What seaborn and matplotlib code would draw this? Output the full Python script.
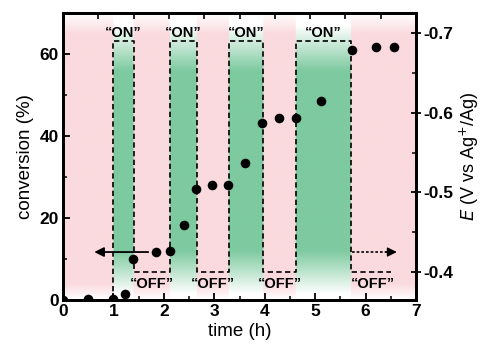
import numpy as np
import pandas as pd
import matplotlib
matplotlib.use("Agg")
import matplotlib.pyplot as plt
import seaborn as sns
from matplotlib.ticker import MultipleLocator, FixedLocator, NullFormatter

# ---------------- data ----------------
time_h = [0.0, 0.5, 1.0, 1.22, 1.39, 1.85, 2.13, 2.39, 2.64, 2.96, 3.28,
          3.61, 3.95, 4.29, 4.62, 5.12, 5.73, 6.21, 6.57]
conversion = [0.0, 0.3, 0.3, 1.5, 10.0, 11.8, 12.0, 18.3, 27.0, 28.0, 28.0,
              33.4, 43.2, 44.4, 44.4, 48.6, 61.0, 61.7, 61.7]

on_start = [1.0, 2.12, 3.29, 4.62]
on_end = [1.40, 2.65, 3.97, 5.71]
off_label_x = [1.77, 2.97, 4.30, 6.15]

pot_t = [1.0, 1.0, 1.40, 1.40, 2.12, 2.12, 2.65, 2.65, 3.29, 3.29,
         3.97, 3.97, 4.62, 4.62, 5.71, 5.71, 6.50]
pot_E = [-0.365, -0.69, -0.69, -0.40, -0.40, -0.69, -0.69, -0.40, -0.40, -0.69,
         -0.69, -0.40, -0.40, -0.69, -0.69, -0.40, -0.40]

left_arrow = [(1.69, 11.7), (0.62, 11.7)]
right_arrow = [(5.73, 11.7), (6.62, 11.7)]

xticks = [0, 1, 2, 3, 4, 5, 6, 7]
yticks = [0, 20, 40, 60]
eticks = [-0.4, -0.5, -0.6, -0.7]

# ---------------- style ----------------
sns.set_theme(style="ticks")
plt.rcParams['font.family'] = ['Liberation Sans', 'DejaVu Sans']
plt.rcParams['axes.unicode_minus'] = False
for k in ('text.color', 'axes.labelcolor', 'xtick.color', 'ytick.color', 'axes.edgecolor'):
    plt.rcParams[k] = 'black'

fig = plt.figure(figsize=(4.86, 3.53), dpi=100)
pos = [63 / 486, 1 - 300 / 353, (416 - 63) / 486, (300 - 13) / 353]

# background gradient axes
bg = fig.add_axes(pos, zorder=0)
xs = np.linspace(0, 7, 1401)
ys = np.linspace(0, 70, 701)
on_mask = np.zeros_like(xs, dtype=bool)
for s, e in zip(on_start, on_end):
    on_mask |= (xs >= s) & (xs <= e)
pink = np.array([250, 218, 222]) / 255.0
green = np.array([126, 202, 160]) / 255.0
fp = np.clip(ys / 4.0, 0, 1) * np.clip((70 - ys) / 5.0, 0, 1)
fg = np.clip((ys - 1.5) / 10.5, 0, 1) * np.clip((67 - ys) / 11.0, 0, 1)
F = np.where(on_mask[None, :], fg[:, None], fp[:, None])
C = np.where(on_mask[None, :, None], green[None, None, :], pink[None, None, :])
img = 1 - F[:, :, None] * (1 - C)
bg.imshow(img, extent=(0, 7, 0, 70), origin='lower', aspect='auto', interpolation='bilinear')
bg.set_xlim(0, 7)
bg.set_ylim(0, 70)
bg.axis('off')

# main axes
ax = fig.add_axes(pos, zorder=2)
ax.patch.set_visible(False)
ax2 = ax.twinx()
ax2.set_zorder(1)
ax2.patch.set_visible(False)

# potential profile
sns.lineplot(x=pot_t, y=pot_E, sort=False, estimator=None, ax=ax2,
             color='black', linewidth=1.2, linestyle=(0, (3.2, 2)))
ax2.set_ylim(-0.365, -0.725)
ax2.yaxis.set_major_locator(FixedLocator(eticks))
ax2.yaxis.set_minor_locator(MultipleLocator(0.05))
ax2.set_yticklabels([f"{v:.1f}" for v in eticks])

# conversion data
df = pd.DataFrame({'time': time_h, 'conversion': conversion})
sns.scatterplot(data=df, x='time', y='conversion', ax=ax, color='black',
                s=48, edgecolor='black', linewidth=0, zorder=5)
ax.set_xlim(0, 7)
ax.set_ylim(0, 70)
ax.set_xticks(xticks)
ax.set_yticks(yticks)
ax.xaxis.set_minor_locator(MultipleLocator(0.5))
ax.yaxis.set_minor_locator(MultipleLocator(10))

# texts
for s, e in zip(on_start, on_end):
    ax.text((s + e) / 2, 65.2, "\u201cON\u201d", ha='center', va='center',
            fontsize=10.5, fontweight='bold')
for xl in off_label_x:
    ax.text(xl, 3.8, "\u201cOFF\u201d", ha='center', va='center',
            fontsize=10.5, fontweight='bold')

# arrows
ax.annotate("", xy=left_arrow[1], xytext=left_arrow[0],
            arrowprops=dict(arrowstyle='-|>', color='black', lw=1.3,
                            mutation_scale=14, shrinkA=0, shrinkB=0))
ax.plot([right_arrow[0][0], right_arrow[1][0] - 0.15],
        [right_arrow[0][1], right_arrow[1][1]], color='black', lw=1.2,
        linestyle=(0, (1.6, 1.2)))
ax.annotate("", xy=right_arrow[1], xytext=(right_arrow[1][0] - 0.2, right_arrow[1][1]),
            arrowprops=dict(arrowstyle='-|>', color='black', lw=1.0,
                            mutation_scale=14, shrinkA=0, shrinkB=0))

# axis labels
ax.set_xlabel("time (h)", fontsize=13.5, labelpad=3)
ax.set_ylabel("conversion (%)", fontsize=13.5, labelpad=4)
ax2.set_ylabel(r"$\it{E}$ (V vs Ag$^{+}$/Ag)", fontsize=13, labelpad=3)

# ticks
for a in (ax, ax2):
    for sp in a.spines.values():
        sp.set_linewidth(2.0)
        sp.set_color('black')
ax.tick_params(axis='both', which='major', direction='in', length=5, width=1.3,
               labelsize=12.5, pad=3, top=False, right=False)
ax.tick_params(axis='both', which='minor', direction='in', length=3, width=1.1,
               top=False, right=False)
ax2.tick_params(axis='y', which='major', direction='inout', length=7, width=1.3,
                labelsize=12.5, pad=2)
ax2.tick_params(axis='y', which='minor', direction='in', length=3, width=1.1)
for lab in ax.get_xticklabels() + ax.get_yticklabels() + ax2.get_yticklabels():
    lab.set_fontweight('bold')

sec = ax.secondary_xaxis('top')
sec.xaxis.set_major_locator(MultipleLocator(0.7))
sec.xaxis.set_major_formatter(NullFormatter())
sec.tick_params(direction='in', length=4, width=1.2)
sec.spines['top'].set_linewidth(2.0)

fig.savefig("out.png", dpi=100)
